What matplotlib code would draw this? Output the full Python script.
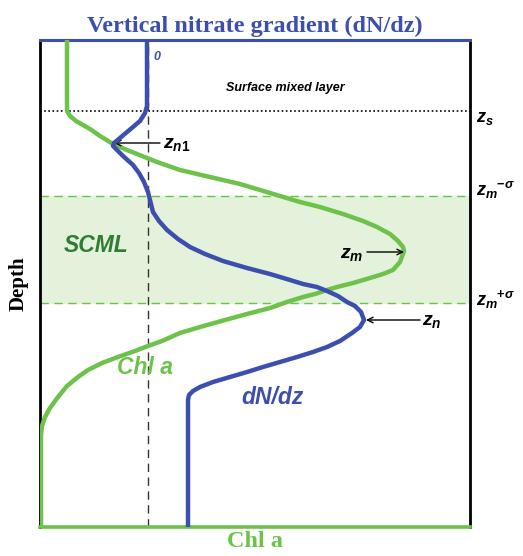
import matplotlib
matplotlib.use('Agg')
import matplotlib.pyplot as plt

plt.rcParams['mathtext.fontset'] = 'custom'
plt.rcParams['mathtext.it'] = 'Liberation Sans:italic:bold'
plt.rcParams['mathtext.rm'] = 'Liberation Sans:bold'

GREEN = '#6cc24a'
DARK_GREEN = '#2e7d32'
BLUE = '#3d4fae'
FILL = '#e4f2dc'

# Schematic profiles, arbitrary units (x to the right, depth downward)
chl_x = [27, 27, 30, 36, 43, 50, 60, 73, 87, 102, 117, 140, 170, 200, 220,
         240, 260, 280, 303, 323, 337, 350, 358, 363, 364, 360, 353, 343,
         330, 313, 297, 287, 275, 263, 247, 230, 207, 185, 160, 140, 122,
         108, 95, 78, 62, 48, 38, 27, 18, 10, 5, 2, 1, 1]
chl_depth = [0, 71, 76, 81, 85, 89, 96, 104, 110, 116, 122, 130, 137, 144,
             150, 156, 162, 167, 174, 181, 187, 194, 201, 207, 211, 222, 230,
             234, 238, 243, 247, 250, 254, 257, 262, 268, 274, 280, 287, 293,
             301, 306, 311, 317, 323, 330, 337, 346, 357, 368, 377, 386, 395,
             487]

dndz_x = [107, 107, 105, 100, 93, 87, 80, 74, 73, 77, 83, 93, 99, 104, 108,
          110, 113, 119, 127, 138, 150, 165, 183, 207, 230, 250, 263, 277,
          287, 298, 307, 315, 321, 324, 320, 312, 300, 287, 273, 257, 240,
          223, 207, 190, 173, 160, 153, 149, 148, 148]
dndz_depth = [0, 66, 73, 81, 87, 92, 98, 103, 106, 110, 116, 125, 133, 142,
              152, 160, 172, 181, 190, 199, 207, 214, 221, 228, 234, 240, 244,
              247, 251, 256, 262, 266, 272, 280, 287, 293, 301, 307, 312, 317,
              322, 327, 332, 337, 342, 347, 351, 355, 360, 487]

z_s = 71
z_m_minus = 156
z_m_plus = 263
zero_x = 108
chl_peak = (364, 212)
n1_peak = (74, 103)
n_peak = (326, 280)

fig = plt.figure(figsize=(5.23, 5.56), dpi=100)
ax = fig.add_axes([40 / 523, 1 - 527 / 556, 430 / 523, 487 / 556])
ax.set_xlim(0, 430)
ax.set_ylim(487, 0)

ax.axhspan(z_m_minus, z_m_plus, color=FILL, zorder=0)
ax.axhline(z_m_minus, color=GREEN, ls=(0, (6, 4)), lw=1)
ax.axhline(z_m_plus, color=GREEN, ls=(0, (6, 4)), lw=1)
ax.axhline(z_s, color='black', ls=(0, (1, 1.5)), lw=1.2)
ax.axvline(zero_x, color='#333333', ls=(0, (6, 4)), lw=1)

ax.plot(chl_x, chl_depth, color=GREEN, lw=3.2, solid_joinstyle='round', zorder=3)
ax.plot(dndz_x, dndz_depth, color=BLUE, lw=3.2, solid_joinstyle='round', zorder=4)

ax.set_xticks([])
ax.set_yticks([])
for side in ['left', 'right']:
    ax.spines[side].set_color('black')
    ax.spines[side].set_linewidth(2)
ax.spines['top'].set_color(BLUE)
ax.spines['top'].set_linewidth(2.2)
ax.spines['bottom'].set_color(GREEN)
ax.spines['bottom'].set_linewidth(2.6)

serif = 'Liberation Serif'
ax.set_title('Vertical nitrate gradient (dN/dz)', fontsize=17.5, fontweight='bold',
             family=serif, color=BLUE, pad=6)
ax.set_xlabel('Chl a', fontsize=17.5, fontweight='bold', family=serif,
              color=GREEN, labelpad=3)
ax.set_ylabel('Depth', fontsize=15, fontweight='bold', family=serif,
              color='black', labelpad=8)

sans = 'Liberation Sans'
ax.text(zero_x + 5, 17, '0', fontsize=9, fontweight='bold', style='italic',
        family=sans, color=BLUE, va='center')
ax.text(245, 48, 'Surface mixed layer', fontsize=9, fontweight='bold',
        style='italic', family=sans, ha='center', va='center')
ax.text(56, 205, 'SCML', fontsize=16.5, fontweight='bold', style='italic',
        family=sans, color=DARK_GREEN, ha='center', va='center')
ax.text(105, 327, 'Chl a', fontsize=16.5, fontweight='bold', style='italic',
        family=sans, color=GREEN, ha='center', va='center')
ax.text(233, 357, 'dN/dz', fontsize=16.5, fontweight='bold', style='italic',
        family=sans, color=BLUE, ha='center', va='center')

arrow = dict(arrowstyle='->', color='black', lw=1, shrinkA=0, shrinkB=0)
ax.annotate('', xy=n1_peak, xytext=(120, 103), arrowprops=arrow)
ax.text(123, 108, r'$z_{n\mathit{1}}$', fontsize=14, va='baseline')
ax.annotate('', xy=chl_peak, xytext=(327, 212), arrowprops=arrow)
ax.text(323, 218, r'$z_m$', fontsize=14, va='baseline', ha='right')
ax.annotate('', xy=n_peak, xytext=(380, 280), arrowprops=arrow)
ax.text(382, 285, r'$z_n$', fontsize=14, va='baseline')

ax.text(436, z_s + 11, r'$z_s$', fontsize=13, va='baseline', clip_on=False)
ax.text(436, z_m_minus - 1, r'$z_m{}^{-\sigma}$', fontsize=13, va='baseline',
        clip_on=False)
ax.text(436, z_m_plus + 2, r'$z_m{}^{+\sigma}$', fontsize=13, va='baseline',
        clip_on=False)

fig.savefig('out.png', dpi=100)
